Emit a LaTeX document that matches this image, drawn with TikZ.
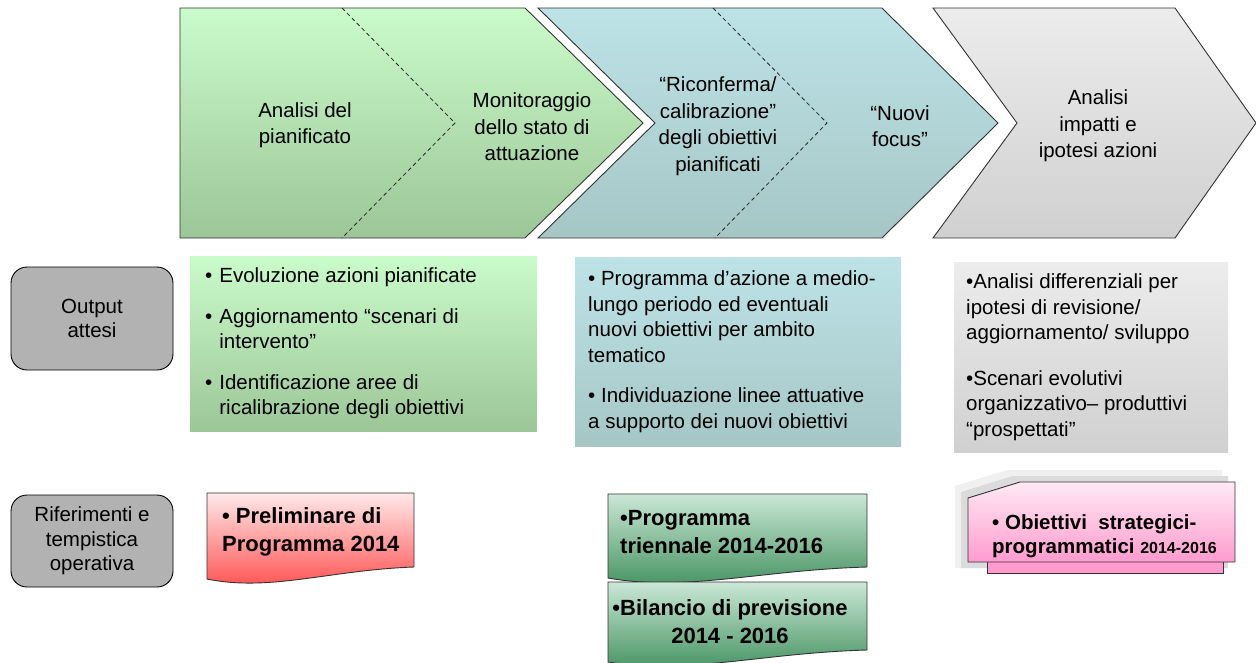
\documentclass[tikz,border=0pt]{standalone}
\usepackage{fontspec}
\setmainfont{Liberation Sans}
\usetikzlibrary{positioning}

\definecolor{greentop}{HTML}{CAFBCB}
\definecolor{greenbot}{HTML}{9CC698}
\definecolor{tealtop}{HTML}{BDE3E7}
\definecolor{tealbot}{HTML}{A6C6C6}
\definecolor{greytop}{HTML}{ECECEC}
\definecolor{greybot}{HTML}{D0D0D0}
\definecolor{labelgrey}{HTML}{B2B2B2}
\definecolor{redtop}{HTML}{FFE9E9}
\definecolor{redbot}{HTML}{FF4B4B}
\definecolor{doctop}{HTML}{CBE8D6}
\definecolor{docbot}{HTML}{3E8E5C}
\definecolor{pinktop}{HTML}{FFEAF4}
\definecolor{pinkbot}{HTML}{FF9BCF}

\begin{document}
\begin{tikzpicture}[x=1pt, y=-1pt]
	\tikzstyle{chevron} = [
		draw=black!80, line width=0.9pt];
	\tikzstyle{cuts} = [
		draw=black!85, line width=0.8pt, dash pattern=on 4pt off 3pt];
	\tikzstyle{phasetext} = [
		align=center, inner sep=0pt,
		font={\fontsize{20.5}{26.5}\selectfont}];
	\tikzstyle{rowlabel} = [
		draw, line width=0.9pt, fill=labelgrey,
		rectangle, rounded corners=16pt,
		minimum width=162pt,
		align=center, font={\fontsize{20.5}{24.5}\selectfont}];
	\tikzstyle{outbox} = [
		rectangle, inner sep=0pt, anchor=north west];
	\tikzstyle{outtext} = [
		align=left, inner sep=0pt, anchor=west,
		font={\fontsize{20.5}{25.5}\selectfont}];
	\tikzstyle{docshape} = [
		draw=black!80, line width=0.9pt];
	\tikzstyle{doctext} = [
		align=left, inner sep=0pt, anchor=west,
		font={\bfseries\fontsize{22}{28}\selectfont}];

	\useasboundingbox (0,0) rectangle (1256,662);

	% phases
	\shadedraw[chevron, top color=greentop, bottom color=greenbot]
		(180,8) -- (525,8) -- (643,123) -- (525,238) -- (180,238) -- cycle;
	\shadedraw[chevron, top color=tealtop, bottom color=tealbot]
		(538,8) -- (882,8) -- (998,123) -- (882,238) -- (538,238) -- (655,123) -- cycle;
	\shadedraw[chevron, top color=greytop, bottom color=greybot]
		(933,8) -- (1175,8) -- (1256,123) -- (1175,238) -- (933,238) -- (1017,123) -- cycle;
	\draw[cuts] (342,8) -- (455,123) -- (342,238);
	\draw[cuts] (713,8) -- (827,123) -- (715,238);

	\node[phasetext] (plan) at (305,125) {Analisi del\\pianificato};
	\node[phasetext] (monit) at (532,127) {Monitoraggio\\dello stato di\\attuazione};
	\node[phasetext] (recal) at (718,126) {“Riconferma/\\calibrazione”\\degli obiettivi\\pianificati};
	\node[phasetext] (focus) at (900,126) {“Nuovi\\focus”};
	\node[phasetext] (impact) at (1098,126) {Analisi\\impatti e\\ipotesi azioni};

	% row labels
	\node[rowlabel, minimum height=103pt] (expected) at (92,318.5) {Output\\attesi};
	\node[rowlabel, minimum height=92pt] (refs) at (92,541) {Riferimenti e\\tempistica\\operativa};

	% expected outputs
	\node[outbox, top color=greentop, bottom color=greenbot,
		minimum width=347pt, minimum height=175pt] (outplan) at (190,256) {};
	\node[outtext, right=15pt of outplan.west] (outplantext) {%
		\begin{tabular}{@{}l@{\hspace{7pt}}l@{}}
		•&Evoluzione azioni pianificate\\[15pt]
		•&Aggiornamento “scenari di\\
		&intervento”\\[15pt]
		•&Identificazione aree di\\
		&ricalibrazione degli obiettivi
		\end{tabular}};

	\node[outbox, top color=tealtop, bottom color=tealbot,
		minimum width=326pt, minimum height=189pt] (outrecal) at (575,257) {};
	\node[outtext, right=13pt of outrecal.west] (outrecaltext) {%
		• Programma d’azione a medio-\\
		lungo periodo ed eventuali\\
		nuovi obiettivi per ambito\\
		tematico\\[15pt]
		• Individuazione linee attuative\\
		a supporto dei nuovi obiettivi};

	\node[outbox, top color=greytop, bottom color=greybot,
		minimum width=274pt, minimum height=190pt] (outimpact) at (954,262) {};
	\node[outtext, right=12pt of outimpact.west] (outimpacttext) {%
		•Analisi differenziali per\\
		ipotesi di revisione/\\
		aggiornamento/ sviluppo\\[20pt]
		•Scenari evolutivi\\
		organizzativo– produttivi\\
		“prospettati”};

	% references
	\shadedraw[docshape, top color=redtop, bottom color=redbot]
		(207,493) -- (414,493) -- (414,567)
		.. controls (330,570) and (270,592) .. (207,579) -- cycle;
	\node[doctext] (prelim) at (222,532) {• Preliminare di\\Programma 2014};

	\shadedraw[docshape, top color=doctop, bottom color=docbot]
		(608,494) -- (867,494) -- (867,567)
		.. controls (761,570) and (686,592) .. (608,578) -- cycle;
	\node[doctext] (triennial) at (620,532) {•Programma\\triennale 2014-2016};

	\shadedraw[docshape, top color=doctop, bottom color=docbot]
		(608,582) -- (867,582) -- (867,650)
		.. controls (761,653) and (686,675) .. (608,662) -- cycle;
	\node[doctext, anchor=center, align=center] (budget) at (730,622) {•Bilancio di previsione\\2014 - 2016};

	\fill[gray!12] (955,486) -- (1007,470) -- (1222,470) -- (1222,568) -- (955,568) -- cycle;
	\fill[gray!28] (961,492) -- (1013,476) -- (1228,476) -- (1228,568) -- (961,568) -- cycle;
	\draw[docshape, fill=pinkbot] (987,555) rectangle (1223,573);
	\shadedraw[docshape, top color=pinktop, bottom color=pinkbot]
		(968,498) -- (1020,482) -- (1235,482) -- (1235,562) -- (968,562) -- cycle;
	\node[doctext, font={\bfseries\fontsize{20.5}{24.5}\selectfont}] (goals) at (992,536)
		{• Obiettivi\ \ strategici-\\programmatici {\fontsize{16}{24.5}\selectfont 2014-2016}};
\end{tikzpicture}
\end{document}
